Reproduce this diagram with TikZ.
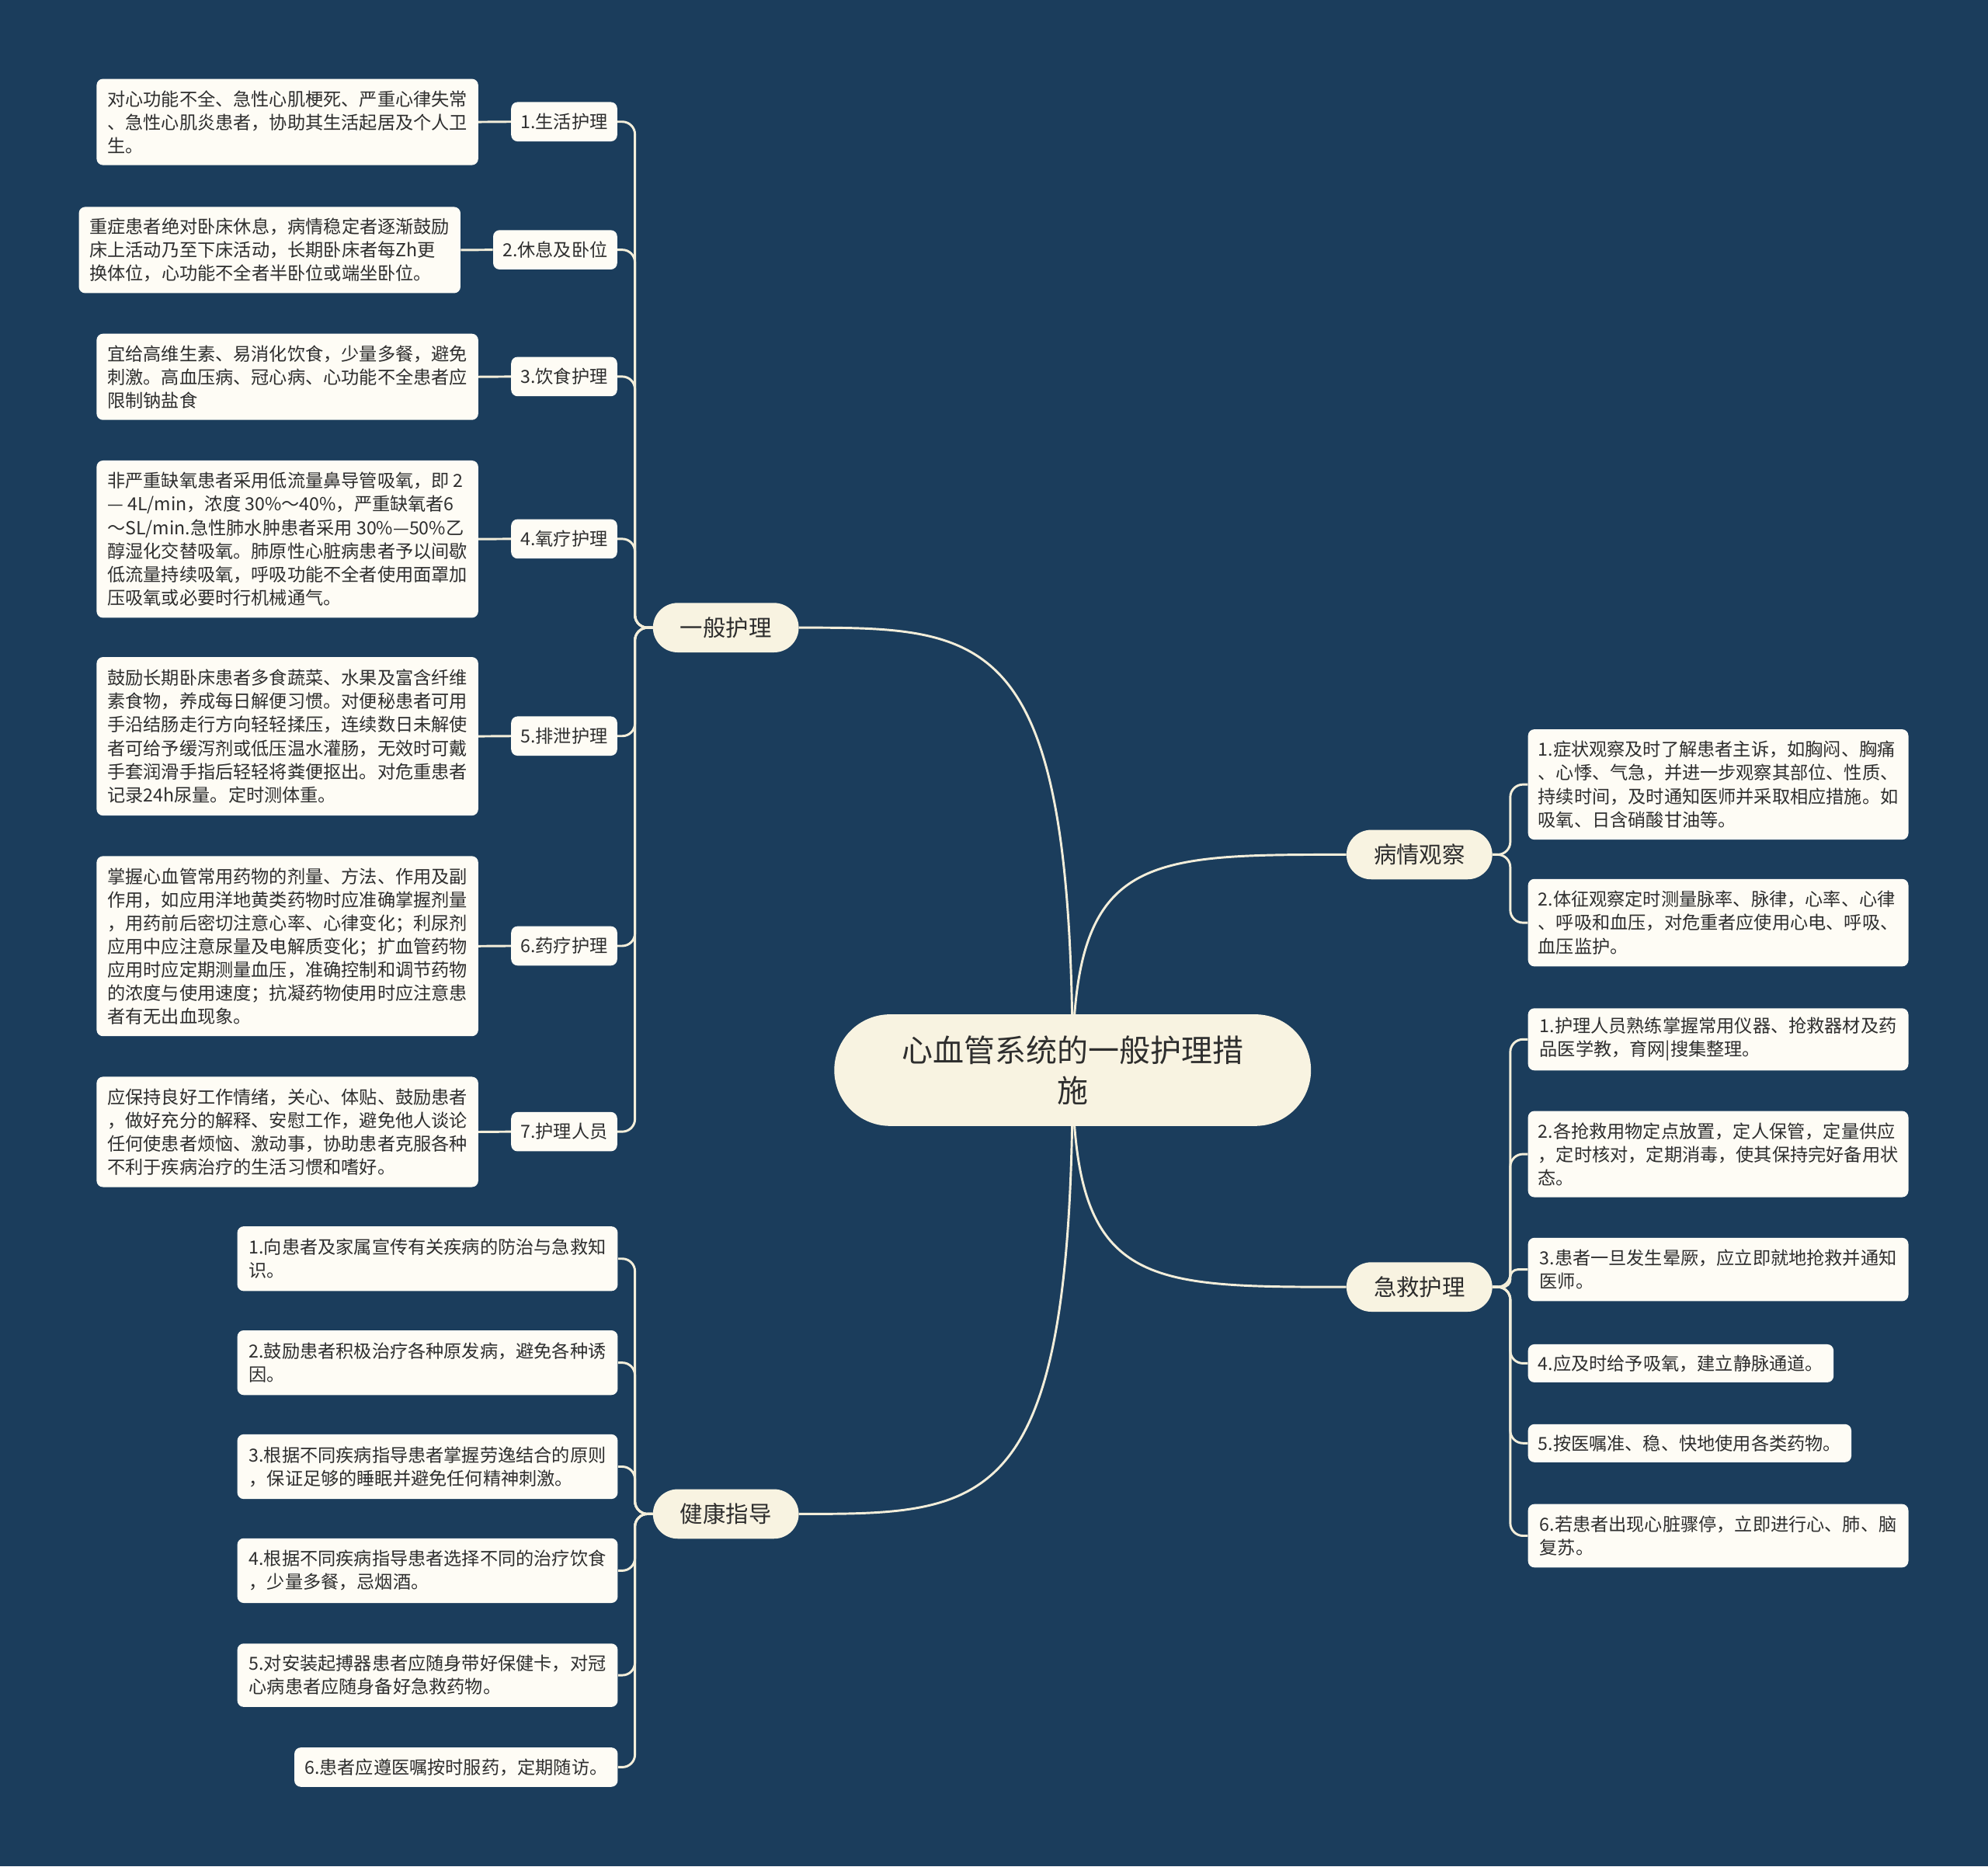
\documentclass[tikz,border=0pt]{standalone}
\usepackage{fontspec}
\setmainfont{Noto Sans CJK SC}
\usetikzlibrary{calc}
\definecolor{bgc}{HTML}{1B3D5C}
\definecolor{linec}{HTML}{F3EEDA}
\definecolor{mainfill}{HTML}{F8F3E1}
\definecolor{leaffill}{HTML}{FEFCF5}
\definecolor{txt}{HTML}{2E2E2E}
\pgfdeclarelayer{bglayer}
\pgfdeclarelayer{linelayer}
\pgfsetlayers{bglayer,linelayer,main}
\tikzset{
  leaf/.style={fill=leaffill, rounded corners=5, inner sep=0, align=left, anchor=north west, text=txt, font=\fontsize{14.2}{18.4}\selectfont},
  subbox/.style={fill=leaffill, rounded corners=5, inner xsep=7.5, inner ysep=0, minimum height=31, anchor=east, text=txt, font=\fontsize{14.2}{18.4}\selectfont},
  topic/.style={fill=mainfill, rounded corners=19.5, minimum width=115, minimum height=39, inner sep=0, text=txt, font=\fontsize{18}{22}\selectfont},
  rootbox/.style={fill=mainfill, rounded corners=44, minimum width=376, minimum height=88, inner sep=0, align=center, text=txt, font=\fontsize{24.5}{32}\selectfont},
  conn/.style={draw=linec, line width=1.8},
  elbow/.style={conn, rounded corners=10},
}
\begin{document}
\begin{tikzpicture}[x=1pt,y=-1pt]
\begin{pgfonlayer}{bglayer}
\fill[bgc] (0,0) rectangle (1568,1472);
\end{pgfonlayer}
\useasboundingbox (0,0) rectangle (1568,1472);

% root and topics
\node[rootbox] (root) at (846,844) {心血管系统的一般护理措\\施};
\node[topic] (g) at (572.5,495) {一般护理};
\node[topic] (j) at (572.5,1194) {健康指导};
\node[topic] (b) at (1119.5,674) {病情观察};
\node[topic] (k) at (1119.5,1015) {急救护理};

% sub nodes of 一般护理
\node[subbox] (s1) at (487,96) {1.生活护理};
\node[subbox] (s2) at (487,197) {2.休息及卧位};
\node[subbox] (s3) at (487,297) {3.饮食护理};
\node[subbox] (s4) at (487,425) {4.氧疗护理};
\node[subbox] (s5) at (487,580.5) {5.排泄护理};
\node[subbox] (s6) at (487,746) {6.药疗护理};
\node[subbox] (s7) at (487,892.5) {7.护理人员};

% leaves of 一般护理
\node[leaf, minimum width=301, minimum height=68] (l1) at (76,62) {对心功能不全、急性心肌梗死、严重心律失常\\、急性心肌炎患者，协助其生活起居及个人卫\\生。};
\node[leaf, minimum width=301, minimum height=68] (l2) at (62,163) {重症患者绝对卧床休息，病情稳定者逐渐鼓励\\床上活动乃至下床活动，长期卧床者每Zh更\\换体位，心功能不全者半卧位或端坐卧位。};
\node[leaf, minimum width=301, minimum height=68] (l3) at (76,263) {宜给高维生素、易消化饮食，少量多餐，避免\\刺激。高血压病、冠心病、心功能不全患者应\\限制钠盐食};
\node[leaf, minimum width=301, minimum height=124] (l4) at (76,363) {非严重缺氧患者采用低流量鼻导管吸氧，即~2\\—~4L/min，浓度~30\%～40\%，严重缺氧者6\\～SL/min.急性肺水肿患者采用~30\%—50\%乙\\醇湿化交替吸氧。肺原性心脏病患者予以间歇\\低流量持续吸氧，呼吸功能不全者使用面罩加\\压吸氧或必要时行机械通气。};
\node[leaf, minimum width=301, minimum height=125] (l5) at (76,518) {鼓励长期卧床患者多食蔬菜、水果及富含纤维\\素食物，养成每日解便习惯。对便秘患者可用\\手沿结肠走行方向轻轻揉压，连续数日未解使\\者可给予缓泻剂或低压温水灌肠，无效时可戴\\手套润滑手指后轻轻将粪便抠出。对危重患者\\记录24h尿量。定时测体重。};
\node[leaf, minimum width=301, minimum height=142] (l6) at (76,675) {掌握心血管常用药物的剂量、方法、作用及副\\作用，如应用洋地黄类药物时应准确掌握剂量\\，用药前后密切注意心率、心律变化；利尿剂\\应用中应注意尿量及电解质变化；扩血管药物\\应用时应定期测量血压，准确控制和调节药物\\的浓度与使用速度；抗凝药物使用时应注意患\\者有无出血现象。};
\node[leaf, minimum width=301, minimum height=87] (l7) at (76,849) {应保持良好工作情绪，关心、体贴、鼓励患者\\，做好充分的解释、安慰工作，避免他人谈论\\任何使患者烦恼、激动事，协助患者克服各种\\不利于疾病治疗的生活习惯和嗜好。};

% leaves of 病情观察
\node[leaf, minimum width=300, minimum height=87] (r1) at (1205,575) {1.症状观察及时了解患者主诉，如胸闷、胸痛\\、心悸、气急，并进一步观察其部位、性质、\\持续时间，及时通知医师并采取相应措施。如\\吸氧、日含硝酸甘油等。};
\node[leaf, minimum width=300, minimum height=69] (r2) at (1205,693) {2.体征观察定时测量脉率、脉律，心率、心律\\、呼吸和血压，对危重者应使用心电、呼吸、\\血压监护。};

% leaves of 急救护理
\node[leaf, minimum width=300, minimum height=49] (e1) at (1205,795) {1.护理人员熟练掌握常用仪器、抢救器材及药\\品医学教，育网|搜集整理。};
\node[leaf, minimum width=300, minimum height=68] (e2) at (1205,876) {2.各抢救用物定点放置，定人保管，定量供应\\，定时核对，定期消毒，使其保持完好备用状\\态。};
\node[leaf, minimum width=300, minimum height=50] (e3) at (1205,976) {3.患者一旦发生晕厥，应立即就地抢救并通知\\医师。};
\node[leaf, minimum width=241, minimum height=30] (e4) at (1205,1060) {4.应及时给予吸氧，建立静脉通道。};
\node[leaf, minimum width=255, minimum height=30] (e5) at (1205,1123) {5.按医嘱准、稳、快地使用各类药物。};
\node[leaf, minimum width=300, minimum height=50] (e6) at (1205,1186) {6.若患者出现心脏骤停，立即进行心、肺、脑\\复苏。};

% leaves of 健康指导
\node[leaf, minimum width=300, minimum height=51] (h1) at (187,967) {1.向患者及家属宣传有关疾病的防治与急救知\\识。};
\node[leaf, minimum width=300, minimum height=51] (h2) at (187,1049) {2.鼓励患者积极治疗各种原发病，避免各种诱\\因。};
\node[leaf, minimum width=300, minimum height=51] (h3) at (187,1131) {3.根据不同疾病指导患者掌握劳逸结合的原则\\，保证足够的睡眠并避免任何精神刺激。};
\node[leaf, minimum width=300, minimum height=51] (h4) at (187,1213) {4.根据不同疾病指导患者选择不同的治疗饮食\\，少量多餐，忌烟酒。};
\node[leaf, minimum width=300, minimum height=50] (h5) at (187,1296) {5.对安装起搏器患者应随身带好保健卡，对冠\\心病患者应随身备好急救药物。};
\node[leaf, minimum width=255, minimum height=31] (h6) at (232,1378) {6.患者应遵医嘱按时服药，定期随访。};

\begin{pgfonlayer}{linelayer}
% main curves
\draw[conn] (root.center) .. controls (846,495) and (780,495) .. (g.east);
\draw[conn] (root.center) .. controls (846,1194) and (780,1194) .. (j.east);
\draw[conn] (root.center) .. controls (846,674) and (900,674) .. (b.west);
\draw[conn] (root.center) .. controls (846,1015) and (900,1015) .. (k.west);
% 一般护理 branches
\foreach \s in {s1,s2,s3,s4,s5,s6,s7}{
  \draw[elbow] (g.west) -- ++(-14,0) |- (\s.east);
}
\draw[conn] (l1.east) -- (s1.west);
\draw[conn] (l2.east) -- (s2.west);
\draw[conn] (l3.east) -- (s3.west);
\draw[conn] (l4.east) -- (s4.west);
\draw[conn] (l5.east) -- (s5.west);
\draw[conn] (l6.east) -- (s6.west);
\draw[conn] (l7.east) -- (s7.west);
% 健康指导 branches
\foreach \h in {h1,h2,h3,h4,h5,h6}{
  \draw[elbow] (j.west) -- ++(-14,0) |- (\h.east);
}
% 病情观察 branches
\foreach \r in {r1,r2}{
  \draw[elbow] (b.east) -- ++(14,0) |- (\r.west);
}
% 急救护理 branches
\foreach \e in {e1,e2,e4,e5,e6}{
  \draw[elbow] (k.east) -- ++(14,0) |- (\e.west);
}
\draw[conn, rounded corners=6] (k.east) -- ++(14,0) |- (e3.west);
\end{pgfonlayer}
\end{tikzpicture}
\end{document}
